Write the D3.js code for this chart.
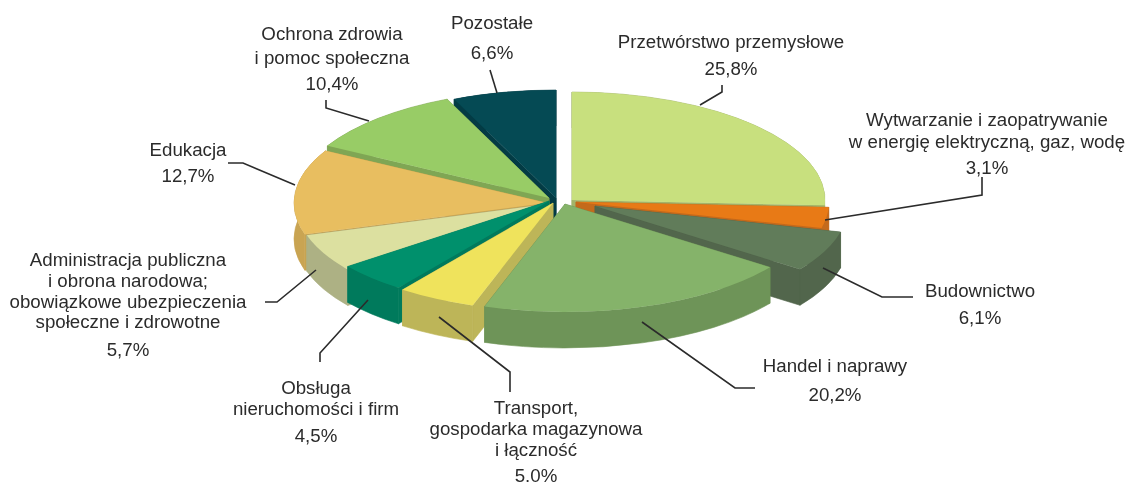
<!DOCTYPE html>
<html>
<head>
<meta charset="utf-8">
<script src="https://d3js.org/d3.v7.min.js"></script>
<style>
  html, body { margin: 0; padding: 0; background: #fff; }
  svg { display: block; filter: blur(0.45px); }
  text { font-family: "Liberation Sans", Arial, sans-serif; font-size: 18.7px; fill: #2b2b2b; }
</style>
</head>
<body>
<div id="chart"></div>
<script>
// sector names, one entry per printed line
let labels = [
    ["Przetwórstwo przemysłowe"],
    ["Wytwarzanie i zaopatrywanie", "w energię elektryczną, gaz, wodę"],
    ["Budownictwo"],
    ["Handel i naprawy"],
    ["Transport,", "gospodarka magazynowa", "i łączność"],
    ["Obsługa", "nieruchomości i firm"],
    ["Administracja publiczna", "i obrona narodowa;", "obowiązkowe ubezpieczenia", "społeczne i zdrowotne"],
    ["Edukacja"],
    ["Ochrona zdrowia", "i pomoc społeczna"],
    ["Pozostałe"]
];
let shares = [25.8, 3.1, 6.1, 20.2, 5.0, 4.5, 5.7, 12.7, 10.4, 6.6];
// printed as in the source, the 5.0% really has a dot there
let shareLabels = ["25,8%", "3,1%", "6,1%", "20,2%", "5.0%", "4,5%", "5,7%", "12,7%", "10,4%", "6,6%"];

// variables for styling
let topColors = ["#c8e07e", "#e87a16", "#617c5a", "#85b36a", "#efe35c", "#00906c", "#dce0a0", "#e8be60", "#98cc66", "#054a54"];
let wallColors = ["#a3b56a", "#c46a1c", "#52664c", "#6e9458", "#bdb558", "#007a5c", "#adb184", "#c9a452", "#7fa654", "#033b44"];

// where each exploded wedge has its tip
let tips = [[572, 200], [576, 202], [595, 206], [565, 204], [553, 203], [549, 201], [549, 204], [547, 203], [549, 198], [556, 198]];
// back to front
let paintOrder = [9, 8, 7, 0, 1, 6, 5, 4, 2, 3];

// label blocks: centre x, baseline of each line
let labelX = [731, 987, 980, 835, 536, 316, 128, 188, 332, 492];
let labelY = [
    [48, 75],
    [126, 148, 174],
    [297, 324],
    [372, 401],
    [414, 435, 456, 482],
    [394, 415, 442],
    [266, 287, 308, 328, 356],
    [156, 182],
    [40, 64, 90],
    [29, 59]
];
let leaders = [
    [[700, 105], [722, 92], [722, 85]],
    [[825, 220], [982, 195], [982, 177]],
    [[823, 268], [882, 297], [913, 297]],
    [[642, 322], [735, 388], [755, 388]],
    [[439, 317], [510, 372], [510, 392]],
    [[368, 300], [320, 353], [320, 362]],
    [[316, 270], [277, 302], [265, 302]],
    [[295, 185], [243, 163], [228, 163]],
    [[369, 121], [326, 108], [326, 100]],
    [[490, 70], [497, 93]]
];

let width = 1127, height = 484;
let rx = 253, ry = 108, depth = 36;

let svg = d3.select("#chart").append("svg")
    .attr("width", width)
    .attr("height", height);

let pie = d3.pie().sort(null).value(d => d);
let arcs = pie(shares);

let topArc = d3.arc().innerRadius(0).outerRadius(rx);

// point on the rim for a pie angle (0 is up, clockwise)
function rim(tip, a) {
    return [tip[0] + rx * Math.sin(a), tip[1] - ry * Math.cos(a)];
}

function cutWall(tip, a) {
    let p = rim(tip, a);
    return "M" + tip + "L" + p + "L" + [p[0], p[1] + depth] + "L" + [tip[0], tip[1] + depth] + "Z";
}

function rimWall(tip, d) {
    let s = rim(tip, d.startAngle), e = rim(tip, d.endAngle);
    let big = d.endAngle - d.startAngle > Math.PI ? 1 : 0;
    return "M" + s + "A" + rx + " " + ry + " 0 " + big + " 1 " + e
        + "L" + [e[0], e[1] + depth]
        + "A" + rx + " " + ry + " 0 " + big + " 0 " + [s[0], s[1] + depth] + "Z";
}

let slices = svg.append("g").attr("class", "pie")
    .selectAll("g")
    .data(paintOrder.map(i => ({ arc: arcs[i], i: i })))
    .enter()
    .append("g");

slices.each(function (d) {
    let g = d3.select(this), tip = tips[d.i];
    let walls = [cutWall(tip, d.arc.startAngle), cutWall(tip, d.arc.endAngle), rimWall(tip, d.arc)];
    g.selectAll("path.wall")
        .data(walls)
        .enter()
        .append("path")
        .attr("class", "wall")
        .attr("d", w => w)
        .attr("fill", wallColors[d.i])
        .attr("stroke", wallColors[d.i])   // hides the hairline seams
        .attr("stroke-width", 0.6);
    g.append("path")
        .attr("class", "top")
        .attr("d", topArc(d.arc))
        .attr("transform", "translate(" + tip + ") scale(1," + (ry / rx) + ")")
        .attr("fill", topColors[d.i]);
});

let leaderLine = d3.line();
svg.append("g").selectAll("path")
    .data(leaders)
    .enter()
    .append("path")
    .attr("d", leaderLine)
    .attr("fill", "none")
    .attr("stroke", "#2b2b2b")
    .attr("stroke-width", 1.6);

let blocks = svg.append("g").selectAll("text")
    .data(labels)
    .enter()
    .append("text")
    .attr("text-anchor", "middle");

blocks.selectAll("tspan")
    .data((d, i) => d.concat([shareLabels[i]]).map((t, j) => ({ t: t, x: labelX[i], y: labelY[i][j] })))
    .enter()
    .append("tspan")
    .attr("x", d => d.x)
    .attr("y", d => d.y)
    .text(d => d.t);
</script>
</body>
</html>
